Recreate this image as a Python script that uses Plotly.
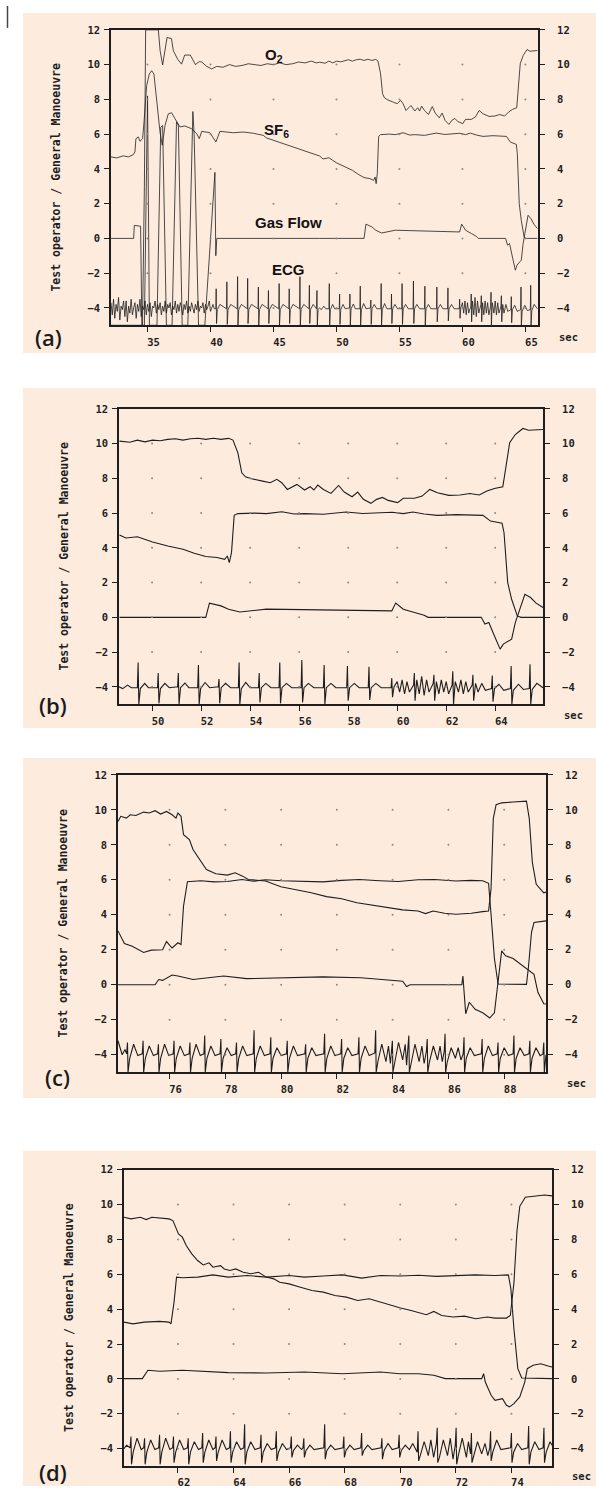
import plotly.graph_objects as go

# ---------------- DATA ----------------
y_ticks = [-4, -2, 0, 2, 4, 6, 8, 10, 12]
a_xticks = [35, 40, 45, 50, 55, 60, 65]
b_xticks = [50, 52, 54, 56, 58, 60, 62, 64]
c_xticks = [76, 78, 80, 82, 84, 86, 88]
d_xticks = [62, 64, 66, 68, 70, 72, 74]

# ---- panel (b): 48.7 - 66 s ----
b_o2_t = [48.67, 49.09, 49.40, 49.71, 50.02, 50.33, 50.64, 50.95, 51.26, 51.57, 51.88, 52.19, 52.50, 52.81, 53.12,
          53.30, 53.50, 53.66, 53.81, 54.05, 54.51, 54.82, 55.09, 55.29, 55.52, 55.91, 56.22, 56.45, 56.60, 56.76,
          56.99, 57.30, 57.61, 57.84, 58.16, 58.39, 58.62, 58.93, 59.16, 59.40, 59.63, 60.02, 60.25, 60.71, 61.02,
          61.33, 61.64, 62.11, 62.57, 62.96, 63.35, 63.66, 63.97, 64.31, 64.40, 64.59, 64.82, 65.13, 65.36, 65.95]
b_o2_v = [10.14, 10.08, 10.2, 10.1, 10.2, 10.16, 10.24, 10.28, 10.2, 10.28, 10.31, 10.24, 10.31, 10.24, 10.3,
          10.2, 9.47, 8.32, 8.09, 7.98, 7.84, 7.75, 7.94, 7.75, 7.36, 7.65, 7.33, 7.52, 7.33, 7.61,
          7.36, 7.13, 7.59, 7.21, 6.94, 7.21, 6.79, 6.56, 6.79, 6.9, 6.73, 6.6, 6.85, 6.85, 6.98,
          7.36, 7.17, 7.02, 7.04, 7.13, 7.04, 7.27, 7.42, 7.52, 8.32, 10.05, 10.52, 10.87, 10.77, 10.81]
b_sf6_t = [48.67, 48.93, 49.40, 50.02, 50.64, 51.26, 51.72, 52.19, 52.65, 52.96, 53.07, 53.15, 53.24, 53.35, 53.50,
           54.2, 54.67, 55.29, 55.8, 56.22, 56.99, 57.5, 57.92, 58.6, 59.32, 59.8, 60.25, 60.64, 61.1, 61.64,
           62.42, 63.0, 63.50, 63.81, 64.28, 64.36, 64.51, 64.67, 64.90, 65.05, 65.95]
b_sf6_v = [4.74, 4.57, 4.64, 4.34, 4.11, 3.92, 3.69, 3.5, 3.44, 3.34, 3.53, 3.15, 3.72, 5.87, 5.97,
           6.0, 5.97, 6.08, 5.95, 5.97, 5.93, 6.02, 6.06, 5.98, 6.02, 6.05, 5.97, 6.06, 5.95, 5.87,
           5.91, 5.9, 5.87, 5.54, 5.41, 4.87, 2.0, 1.04, 0.08, 0.0, 0.0]
b_gas_t = [48.67, 52.19, 52.34, 52.81, 53.12, 53.58, 54.67, 56.22, 57.77, 59.78, 59.94, 60.25, 60.71, 61.10,
           61.26, 63.43, 63.58, 63.74, 63.97, 64.20, 64.33, 64.67, 64.82, 64.98, 65.21, 65.44, 65.67, 65.95]
b_gas_v = [0, 0, 0.82, 0.66, 0.47, 0.31, 0.47, 0.43, 0.43, 0.37, 0.82, 0.47, 0.28, 0.12,
           0, 0, -0.39, -0.3, -1.07, -1.83, -1.54, -1.26, -0.3, 0.37, 1.33, 1.14, 0.82, 0.57]
b_ecg_t = [48.65, 48.8, 49.0, 49.15,
           49.4, 49.43, 49.46, 49.52, 49.7, 49.85,
           50.22, 50.25, 50.28, 50.34, 50.52, 50.7,
           51.04, 51.07, 51.1, 51.16, 51.34, 51.5,
           51.86, 51.89, 51.92, 51.98, 52.16, 52.35,
           52.7, 52.73, 52.76, 52.82, 53.0, 53.2,
           53.52, 53.55, 53.58, 53.64, 53.82, 54.0,
           54.34, 54.37, 54.4, 54.46, 54.64, 54.85,
           55.18, 55.21, 55.24, 55.3, 55.48, 55.7,
           56.08, 56.11, 56.14, 56.2, 56.38, 56.6,
           56.99, 57.02, 57.05, 57.11, 57.3, 57.5,
           57.94, 57.97, 58.0, 58.06, 58.25, 58.45,
           58.82, 58.85, 58.88, 58.94, 59.13, 59.35,
           59.75, 59.78, 59.81, 59.87,
           60.0, 60.1, 60.2, 60.3, 60.4, 60.5,
           60.67, 60.7, 60.73, 60.8, 60.9, 61.0, 61.1, 61.2, 61.3,
           61.47, 61.5, 61.53, 61.6, 61.7, 61.8, 61.9, 62.0, 62.1,
           62.24, 62.27, 62.3, 62.37, 62.5, 62.6, 62.7, 62.8, 62.9,
           63.06, 63.09, 63.12, 63.2, 63.3, 63.45, 63.6,
           63.85, 63.88, 63.91, 63.97, 64.15, 64.35,
           64.62, 64.65, 64.68, 64.74, 64.95, 65.15,
           65.39, 65.42, 65.45, 65.51, 65.7, 65.95]
b_ecg_v = [-4.0, -4.1, -3.9, -4.05,
           -4.05, -2.6, -5.0, -4.1, -3.8, -4.05,
           -4.05, -3.2, -4.95, -4.1, -3.8, -4.05,
           -4.0, -3.2, -5.0, -4.05, -3.78, -4.05,
           -4.05, -2.75, -5.0, -4.1, -3.75, -4.05,
           -4.0, -3.55, -4.95, -4.05, -3.8, -4.05,
           -4.05, -2.6, -5.0, -4.1, -3.75, -4.05,
           -4.05, -3.2, -4.9, -4.05, -3.8, -4.05,
           -4.05, -2.6, -4.95, -4.05, -3.8, -4.05,
           -4.05, -2.45, -4.9, -4.05, -3.8, -4.05,
           -4.05, -2.75, -5.0, -4.05, -3.8, -4.05,
           -4.05, -2.8, -4.8, -4.05, -3.8, -4.05,
           -4.05, -2.85, -4.75, -4.05, -3.8, -4.05,
           -4.05, -3.5, -4.6, -4.0,
           -3.7, -4.3, -3.6, -4.4, -3.7, -4.3,
           -3.9, -3.2, -4.8, -3.6, -4.4, -3.4, -4.5, -3.6, -4.3,
           -3.8, -3.3, -4.8, -3.7, -4.4, -3.6, -4.3, -3.7, -4.4,
           -3.9, -3.1, -5.0, -3.7, -4.3, -3.6, -4.4, -3.7, -4.3,
           -3.9, -3.3, -4.8, -3.8, -4.3, -3.8, -4.2,
           -4.1, -3.35, -4.85, -4.1, -3.85, -4.2,
           -4.1, -2.8, -5.0, -4.2, -3.85, -4.15,
           -4.1, -2.7, -5.0, -4.15, -3.8, -4.05]

# ---- panel (a): early part 32.1 - 48.6 s (rest is the same record as panel b) ----
a_o2_t_early = [32.1, 34.6, 34.75, 34.85, 35.86, 36.0, 36.2, 36.4, 36.55, 36.9, 37.05, 37.4, 37.7, 37.95, 38.4,
                38.8, 39.1, 39.3, 39.7, 40.1, 40.5, 41.0, 41.5, 42.0, 42.5, 43.0, 43.5, 44.0, 44.5, 45.0,
                45.5, 46.0, 46.5, 47.0, 47.5, 48.0, 48.4]
a_o2_v_early = [-5, -5, 3.0, 12, 12, 10.8, 9.98, 11.0, 11.56, 11.5, 10.8, 10.3, 10.03, 10.55, 10.55,
                10.0, 10.17, 10.15, 9.9, 9.75, 9.9, 9.85, 10.0, 9.9, 9.95, 10.05, 10.0, 9.95, 10.05, 10.0,
                10.1, 10.0, 10.05, 10.15, 10.1, 10.2, 10.1]
a_sf6_t_early = [32.1, 32.55, 33.08, 33.48, 33.87, 34.0, 34.08, 34.27, 34.4, 34.61, 34.72, 34.93, 35.14, 35.33,
                 35.51, 35.72, 35.99, 36.17, 36.39, 36.65, 36.91, 37.18, 37.58, 37.97, 38.5, 38.9, 39.11, 39.3,
                 39.96, 40.43, 40.75, 41.81, 42.6, 43.4, 44.19, 44.45, 44.98, 45.78, 46.57, 47.1, 47.6, 48.2]
a_sf6_v_early = [4.69, 4.63, 4.75, 4.69, 4.82, 4.98, 5.74, 5.84, 5.59, 5.74, 6.69, 8.79, 9.46, 9.65,
                 9.46, 8.03, 6.12, 5.36, 6.5, 7.17, 7.23, 6.89, 6.41, 6.47, 6.31, 6.03, 5.74, 6.16,
                 6.08, 5.55, 6.16, 6.08, 6.12, 6.05, 5.93, 5.78, 5.65, 5.45, 5.26, 5.13, 5.0, 4.85]
a_gas_t_early = [32.1, 33.9, 33.95, 34.45, 34.55, 34.75, 35.0, 35.15, 35.75, 36.05, 36.2, 36.5, 36.95, 37.3,
                 37.45, 37.75, 38.2, 38.6, 38.7, 39.05, 39.55, 40.35, 40.42, 40.5]
a_gas_v_early = [0, 0, 0.75, 0.7, -5, -5, 8.2, -5, -5, 6.4, 6.5, -5, -5, 6.7,
                 6.5, -5, -5, 7.3, 6.0, -5, -5, 3.8, -1.0, 0]
a_ecg_t_early = [32.1, 32.2, 32.3, 32.4, 32.5, 32.6, 32.7, 32.8, 32.9, 33.0,
                 33.1, 33.2, 33.3, 33.4, 33.5, 33.6, 33.7, 33.8, 33.9, 34.0,
                 34.1, 34.2, 34.3, 34.4, 34.5, 34.6, 34.7, 34.8, 34.9, 35.0,
                 35.1, 35.2, 35.3, 35.4, 35.5, 35.6, 35.7, 35.8, 35.9, 36.0,
                 36.1, 36.2, 36.3, 36.4, 36.5, 36.6, 36.7, 36.8, 36.9, 37.0,
                 37.1, 37.2, 37.3, 37.4, 37.5, 37.6, 37.7, 37.8, 37.9, 38.0,
                 38.1, 38.2, 38.3, 38.4, 38.5, 38.6, 38.7, 38.8, 38.9, 39.0,
                 39.1, 39.2, 39.3, 39.4, 39.5, 39.6, 39.7, 39.8, 39.9, 40.0,
                 40.1, 40.2, 40.3,
                 40.42, 40.45, 40.48, 40.54, 40.75,
                 41.27, 41.3, 41.33, 41.39, 41.6,
                 42.12, 42.15, 42.18, 42.24, 42.45,
                 42.92, 42.95, 42.98, 43.04, 43.25,
                 43.77, 43.8, 43.83, 43.89, 44.1,
                 44.57, 44.6, 44.63, 44.69, 44.9,
                 45.42, 45.45, 45.48, 45.54, 45.75,
                 46.22, 46.25, 46.28, 46.34, 46.55,
                 47.07, 47.1, 47.13, 47.19, 47.4,
                 47.82, 47.85, 47.88, 47.94, 48.15,
                 48.42, 48.45, 48.48, 48.54]
a_ecg_v_early = [-3.7, -4.4, -3.5, -4.6, -3.8, -4.2, -3.4, -4.7, -3.9, -4.1,
                 -3.6, -4.5, -3.6, -4.8, -3.9, -4.3, -3.5, -4.4, -4.0, -3.7,
                 -4.6, -3.8, -4.2, -3.5, -4.5, -3.9, -4.1, -3.6, -4.4, -3.8,
                 -4.2, -3.7, -4.5, -3.9, -4.0, -3.6, -4.3, -3.8, -4.1, -3.7,
                 -4.4, -3.9, -4.2, -3.6, -4.3, -3.8, -4.0, -3.7, -4.4, -3.9,
                 -4.1, -3.6, -4.3, -3.8, -4.2, -3.7, -4.0, -4.4, -3.8, -4.1,
                 -3.6, -4.3, -3.9, -4.2, -3.7, -4.0, -4.3, -3.8, -4.1, -3.6,
                 -4.2, -3.9, -4.0, -3.7, -4.3, -3.8, -4.1, -3.9, -3.6, -4.2,
                 -4.0, -3.8, -4.05,
                 -4.05, -2.9, -4.9, -4.1, -3.8,
                 -4.05, -2.5, -4.95, -4.1, -3.8,
                 -4.05, -2.2, -5.0, -4.1, -3.8,
                 -4.05, -2.3, -4.9, -4.1, -3.8,
                 -4.05, -2.8, -5.0, -4.1, -3.8,
                 -4.05, -3.0, -4.9, -4.1, -3.8,
                 -4.05, -2.6, -5.0, -4.1, -3.8,
                 -4.05, -2.9, -4.9, -4.1, -3.8,
                 -4.05, -2.2, -5.0, -4.1, -3.8,
                 -4.05, -2.7, -4.9, -4.1, -3.8,
                 -4.05, -3.0, -5.0, -4.1]

# ---- panel (c): 74.2 - 89.5 s ----
c_l1_t = [74.15, 74.25, 74.45, 74.59, 74.79, 75.07, 75.27, 75.48, 75.68, 75.89, 76.09, 76.23, 76.30, 76.41, 76.50,
          76.71, 76.84, 77.12, 77.32, 77.66, 78.07, 78.35, 78.62, 78.82, 79.44, 79.99, 80.53, 81.08, 81.63, 82.17,
          82.72, 83.27, 83.81, 84.36, 84.91, 85.18, 85.45, 85.86, 86.27, 86.82, 87.23, 87.44, 87.53, 87.61, 87.71,
          87.91, 88.32, 88.80, 88.90, 89.01, 89.15, 89.42, 89.5]
c_l1_v = [9.34, 9.63, 9.53, 9.72, 9.68, 9.87, 9.82, 9.95, 9.76, 9.91, 9.72, 9.53, 9.82, 9.63, 8.58,
          8.3, 7.73, 7.07, 6.59, 6.35, 6.27, 6.4, 6.21, 6.02, 5.93, 5.6, 5.45, 5.26, 5.04, 4.92,
          4.69, 4.54, 4.41, 4.28, 4.22, 4.07, 4.22, 4.09, 4.03, 4.09, 4.18, 4.22, 5.5, 9.5, 10.29,
          10.4, 10.45, 10.5, 9.5, 7.0, 5.74, 5.26, 5.3]
c_l2_t = [74.15, 74.38, 74.66, 75.07, 75.34, 75.75, 75.89, 76.09, 76.30, 76.41, 76.50, 76.64, 77.12, 77.6, 78.07,
          78.6, 79.0, 79.44, 80.0, 80.81, 81.5, 82.17, 82.8, 83.54, 84.2, 84.91, 85.5, 86.27, 86.8, 87.23,
          87.44, 87.53, 87.65, 87.78, 88.80, 88.87, 88.98, 89.07, 89.5]
c_l2_v = [3.08, 2.36, 2.2, 1.85, 1.98, 2.0, 2.47, 2.1, 2.4, 2.3, 4.5, 5.89, 5.95, 5.88, 5.9,
          6.02, 5.92, 6.0, 5.95, 5.9, 5.88, 5.97, 6.02, 5.95, 5.9, 6.0, 6.02, 5.93, 5.97, 5.95,
          5.8, 4.0, 1.5, 0.04, 0.02, 1.0, 3.0, 3.56, 3.65]
c_gas_t = [74.15, 75.48, 75.61, 75.75, 76.09, 76.30, 76.84, 77.94, 78.76, 80.12, 81.49, 82.86, 83.81, 84.36, 84.50,
           84.63, 86.48, 86.52, 86.62, 86.75, 86.96, 87.23, 87.48, 87.65, 87.91, 88.05, 88.32, 88.66, 88.87, 89.07,
           89.21, 89.42, 89.5]
c_gas_v = [0, 0, 0.3, 0.25, 0.56, 0.5, 0.3, 0.5, 0.35, 0.4, 0.45, 0.4, 0.3, 0.2, -0.1,
           0, 0, 0.5, -1.66, -1.0, -1.4, -1.6, -1.9, -1.6, 1.94, 1.66, 1.5, 1.09, 0.8, 0.6,
           -0.43, -1.09, -1.1]
c_ecg_t = [74.15, 74.3, 74.4,
           74.46, 74.49, 74.51, 74.57, 74.71, 74.86,
           75.02, 75.05, 75.07, 75.13, 75.27, 75.42,
           75.57, 75.60, 75.62, 75.68, 75.82, 75.97,
           76.13, 76.16, 76.18, 76.24, 76.38, 76.53,
           76.70, 76.73, 76.75, 76.81, 76.95, 77.10,
           77.23, 77.26, 77.28, 77.34, 77.48, 77.63,
           77.81, 77.84, 77.86, 77.92, 78.06, 78.21,
           78.37, 78.40, 78.42, 78.48, 78.62, 78.77,
           79.00, 79.03, 79.05, 79.11, 79.25, 79.40,
           79.60, 79.63, 79.65, 79.71, 79.85, 80.00,
           80.19, 80.22, 80.24, 80.30, 80.44, 80.59,
           80.85, 80.88, 80.90, 80.96, 81.10, 81.25,
           81.53, 81.56, 81.58, 81.64, 81.78, 81.93,
           82.14, 82.17, 82.19, 82.25, 82.39, 82.54,
           82.76, 82.79, 82.81, 82.87, 83.01, 83.16,
           83.36, 83.39, 83.41, 83.47, 83.61, 83.76, 83.85, 83.92,
           83.96, 83.99, 84.01, 84.07, 84.21, 84.36, 84.45, 84.50,
           84.55, 84.58, 84.60, 84.66, 84.80, 84.95, 85.05, 85.13,
           85.21, 85.24, 85.26, 85.32, 85.46, 85.61, 85.70, 85.78,
           85.85, 85.88, 85.90, 85.96, 86.10, 86.25, 86.35, 86.45,
           86.53, 86.56, 86.58, 86.64, 86.78, 86.93,
           87.18, 87.21, 87.23, 87.29, 87.43, 87.58,
           87.75, 87.78, 87.80, 87.86, 88.00, 88.15,
           88.32, 88.35, 88.37, 88.43, 88.57, 88.72,
           88.89, 88.92, 88.94, 89.00, 89.14, 89.29,
           89.39, 89.42, 89.44, 89.50]
c_ecg_v = [-3.2, -4.0, -3.7,
           -3.95, -3.3, -5.0, -4.2, -3.4, -4.05,
           -3.95, -3.2, -5.0, -4.2, -3.5, -4.05,
           -3.95, -3.4, -5.0, -4.2, -3.4, -4.05,
           -3.95, -3.2, -5.0, -4.2, -3.5, -4.05,
           -3.95, -3.3, -5.0, -4.2, -3.4, -4.05,
           -3.95, -2.9, -5.0, -4.2, -3.5, -4.05,
           -3.95, -3.1, -5.0, -4.2, -3.6, -4.05,
           -3.95, -3.3, -5.0, -4.2, -3.5, -4.05,
           -3.95, -2.6, -5.0, -4.2, -3.5, -4.05,
           -3.95, -3.0, -5.0, -4.2, -3.6, -4.05,
           -3.95, -3.2, -5.0, -4.2, -3.5, -4.05,
           -3.95, -3.4, -5.0, -4.2, -3.6, -4.05,
           -3.95, -2.8, -5.0, -4.2, -3.5, -4.05,
           -3.95, -3.1, -5.0, -4.2, -3.6, -4.05,
           -3.95, -3.0, -5.0, -4.2, -3.5, -4.05,
           -3.9, -2.6, -5.0, -4.4, -3.4, -4.4, -3.5, -4.5,
           -3.8, -3.2, -5.0, -4.5, -3.3, -4.3, -3.4, -4.6,
           -3.8, -2.9, -5.0, -4.5, -3.4, -4.4, -3.5, -4.5,
           -3.8, -3.1, -5.0, -4.4, -3.5, -4.3, -3.5, -4.4,
           -3.8, -2.8, -5.0, -4.4, -3.6, -4.2, -3.6, -4.3,
           -3.95, -3.0, -5.0, -4.2, -3.6, -4.05,
           -3.95, -3.1, -5.0, -4.2, -3.5, -4.05,
           -3.95, -3.3, -5.0, -4.2, -3.6, -4.05,
           -3.95, -2.9, -5.0, -4.2, -3.6, -4.05,
           -3.95, -3.2, -5.0, -4.2, -3.6, -4.05,
           -3.95, -3.3, -5.0, -4.0]

# ---- panel (d): 60.1 - 75.5 s ----
d_l1_t = [60.06, 60.31, 60.65, 60.86, 61.06, 61.34, 61.68, 61.82, 61.95, 62.02, 62.16, 62.30, 62.50, 62.71, 62.91,
          63.12, 63.26, 63.53, 63.67, 63.87, 64.08, 64.35, 64.63, 64.90, 65.18, 65.45, 65.66, 66.0, 66.41, 66.82,
          67.23, 67.65, 68.06, 68.47, 68.88, 69.29, 69.70, 69.98, 70.39, 70.66, 70.94, 71.21, 71.49, 71.90, 72.31,
          72.72, 73.13, 73.41, 73.82, 73.96, 74.09, 74.20, 74.30, 74.50, 74.92, 75.19, 75.46]
d_l1_v = [9.27, 9.18, 9.27, 9.14, 9.27, 9.21, 9.18, 9.08, 8.6, 8.32, 8.13, 7.65, 7.17, 6.79, 6.54,
          6.66, 6.41, 6.5, 6.31, 6.22, 6.31, 6.12, 6.03, 6.12, 5.84, 5.74, 5.55, 5.45, 5.26, 5.07,
          4.98, 4.79, 4.69, 4.5, 4.6, 4.4, 4.21, 4.08, 3.93, 3.79, 3.68, 3.87, 3.64, 3.55, 3.6,
          3.45, 3.55, 3.49, 3.49, 3.64, 5.5, 8.5, 9.9, 10.42, 10.5, 10.55, 10.5]
d_l2_t = [60.06, 60.38, 60.79, 61.34, 61.68, 61.75, 61.86, 61.95, 62.16, 62.71, 63.26, 63.81, 64.49, 65.18, 66.0,
          66.55, 67.23, 67.92, 68.61, 69.29, 70.0, 70.66, 71.3, 72.03, 72.7, 73.41, 73.89, 73.98, 74.09, 74.23,
          74.37, 75.46]
d_l2_v = [3.26, 3.16, 3.26, 3.3, 3.26, 3.16, 4.4, 5.84, 5.8, 5.84, 5.97, 5.84, 5.93, 5.84, 5.93,
          5.84, 5.9, 5.97, 5.78, 5.93, 5.9, 5.95, 5.88, 5.93, 5.97, 5.93, 5.97, 5.17, 2.88, 0.59,
          0.05, 0.02]
d_gas_t = [60.06, 60.72, 60.92, 61.34, 62.16, 62.71, 63.81, 65.18, 66.55, 67.92, 69.29, 69.98, 70.66, 71.21, 71.49,
           71.62, 72.93, 73.0, 73.06, 73.27, 73.41, 73.68, 73.82, 73.93, 74.09, 74.30, 74.48, 74.57, 74.78, 75.05,
           75.32, 75.46]
d_gas_v = [0.02, 0.02, 0.5, 0.44, 0.5, 0.44, 0.36, 0.34, 0.4, 0.3, 0.4, 0.3, 0.3, 0.21, 0.06,
           0.02, 0.02, 0.3, -0.18, -0.94, -1.23, -1.13, -1.51, -1.6, -1.42, -1.03, -0.18, 0.59, 0.78, 0.87,
           0.74, 0.68]
d_ecg_t = [60.06, 60.15,
           60.28, 60.31, 60.33, 60.39, 60.53, 60.68,
           60.77, 60.80, 60.82, 60.88, 61.02, 61.17,
           61.31, 61.34, 61.36, 61.42, 61.56, 61.71,
           61.81, 61.84, 61.86, 61.92, 62.06, 62.21,
           62.34, 62.37, 62.39, 62.45, 62.59, 62.74,
           62.86, 62.89, 62.91, 62.97, 63.11, 63.26,
           63.34, 63.37, 63.39, 63.45, 63.59, 63.74,
           63.86, 63.89, 63.91, 63.97, 64.11, 64.26,
           64.37, 64.40, 64.42, 64.48, 64.62, 64.77,
           64.96, 64.99, 65.01, 65.07, 65.21, 65.36,
           65.51, 65.54, 65.56, 65.62, 65.76, 65.91,
           66.05, 66.08, 66.10, 66.16, 66.30, 66.45,
           66.50, 66.53, 66.55, 66.61, 66.75, 66.90,
           67.25, 67.28, 67.30, 67.36, 67.50, 67.65,
           67.94, 67.97, 67.99, 68.05, 68.19, 68.34,
           68.58, 68.61, 68.63, 68.69, 68.83, 68.98,
           69.31, 69.34, 69.36, 69.42, 69.56, 69.71,
           69.93, 69.96, 69.98, 70.04, 70.18, 70.33, 70.45,
           70.61, 70.64, 70.66, 70.72, 70.86, 71.01, 71.10, 71.20,
           71.30, 71.33, 71.35, 71.41, 71.55, 71.70, 71.80, 71.90,
           71.98, 72.01, 72.03, 72.09, 72.23, 72.38, 72.45,
           72.53, 72.56, 72.58, 72.64, 72.78, 72.93, 73.05, 73.15,
           73.22, 73.25, 73.27, 73.33, 73.47, 73.62,
           73.97, 74.00, 74.02, 74.08, 74.22, 74.37,
           74.59, 74.62, 74.64, 74.70, 74.84, 74.99,
           75.14, 75.17, 75.19, 75.25, 75.39, 75.46]
d_ecg_v = [-4.0, -3.8,
           -3.95, -3.3, -4.9, -4.2, -3.4, -4.05,
           -3.95, -3.4, -4.9, -4.2, -3.5, -4.05,
           -3.95, -3.2, -4.9, -4.2, -3.4, -4.05,
           -3.95, -3.3, -4.8, -4.2, -3.5, -4.05,
           -3.95, -3.4, -4.9, -4.2, -3.6, -4.05,
           -3.95, -3.1, -4.8, -4.2, -3.5, -4.05,
           -3.95, -3.3, -4.7, -4.2, -3.5, -4.05,
           -3.95, -3.0, -4.8, -4.2, -3.6, -4.05,
           -3.95, -2.6, -4.9, -4.2, -3.6, -4.05,
           -3.95, -3.2, -4.8, -4.2, -3.7, -4.05,
           -3.95, -3.0, -4.7, -4.2, -3.7, -4.05,
           -3.95, -3.3, -4.5, -4.1, -3.8, -4.05,
           -3.95, -3.4, -4.5, -4.1, -3.8, -4.05,
           -3.95, -2.6, -4.6, -4.1, -3.8, -4.05,
           -3.95, -3.3, -4.5, -4.1, -3.8, -4.05,
           -3.95, -3.1, -4.4, -4.1, -3.8, -4.05,
           -3.95, -3.4, -4.6, -4.1, -3.7, -4.05,
           -3.95, -3.2, -4.5, -4.1, -3.8, -4.05, -3.7,
           -4.2, -3.0, -4.7, -4.4, -3.6, -4.4, -3.5, -4.5,
           -3.7, -2.8, -4.8, -4.5, -3.5, -4.4, -3.4, -4.6,
           -3.8, -2.8, -4.9, -4.4, -3.4, -4.5, -3.6,
           -4.3, -3.1, -4.8, -4.4, -3.6, -4.3, -3.7, -4.4,
           -3.95, -3.0, -4.7, -4.2, -3.5, -4.05,
           -3.95, -3.1, -4.8, -4.2, -3.7, -4.05,
           -3.95, -2.7, -4.9, -4.2, -3.6, -4.05,
           -3.95, -2.8, -4.8, -4.2, -3.6, -3.8]

# panel (a) = early segment + the same record shown in panel (b)
a_o2_t, a_o2_v = a_o2_t_early + b_o2_t, a_o2_v_early + b_o2_v
a_sf6_t, a_sf6_v = a_sf6_t_early + b_sf6_t, a_sf6_v_early + b_sf6_v
a_gas_t, a_gas_v = a_gas_t_early + b_gas_t, a_gas_v_early + b_gas_v
a_ecg_t, a_ecg_v = a_ecg_t_early + b_ecg_t, a_ecg_v_early + b_ecg_v

# ---------------- FIGURE ----------------
W, H = 596, 1488
BG = "#FDECDE"
INK = "#1e1e1e"
MONO = "DejaVu Sans Mono"


def fx(px):
    return px / W


def fy(py):
    return 1 - py / H


panels = [
    dict(box=(111, 538, 24, 321), bg=(7, 349), xr=[32.1, 66.0], xt=a_xticks, lw=0.8,
         series=[(a_o2_t, a_o2_v), (a_sf6_t, a_sf6_v), (a_gas_t, a_gas_v), (a_ecg_t, a_ecg_v)],
         letter="(a)", lpos=(48, 333), spos=(568, 333)),
    dict(box=(119, 543, 405, 702), bg=(384, 726), xr=[48.65, 65.95], xt=b_xticks, lw=1.1,
         series=[(b_o2_t, b_o2_v), (b_sf6_t, b_sf6_v), (b_gas_t, b_gas_v), (b_ecg_t, b_ecg_v)],
         letter="(b)", lpos=(53, 703), spos=(573, 713)),
    dict(box=(118, 546, 773, 1072), bg=(756, 1098), xr=[74.15, 89.5], xt=c_xticks, lw=1.1,
         series=[(c_l1_t, c_l1_v), (c_l2_t, c_l2_v), (c_gas_t, c_gas_v), (c_ecg_t, c_ecg_v)],
         letter="(c)", lpos=(57, 1077), spos=(576, 1083)),
    dict(box=(124, 552, 1170, 1468), bg=(1151, 1488), xr=[60.06, 75.46], xt=d_xticks, lw=1.1,
         series=[(d_l1_t, d_l1_v), (d_l2_t, d_l2_v), (d_gas_t, d_gas_v), (d_ecg_t, d_ecg_v)],
         letter="(d)", lpos=(53, 1474), spos=(581, 1478)),
]

fig = go.Figure()
layout = dict(width=W, height=H, margin=dict(l=0, r=0, t=0, b=0), paper_bgcolor="white",
              plot_bgcolor=BG, showlegend=False)
shapes, annotations = [], []
tickfont = dict(family=MONO, size=10.5, color=INK, weight="bold")

for i, p in enumerate(panels):
    n = i + 1
    xs = "" if n == 1 else str(n)
    x0, x1, y0, y1 = p["box"]
    dom_x = [fx(x0), fx(x1)]
    dom_y = [fy(y1), fy(y0)]
    layout["xaxis" + xs] = dict(domain=dom_x, range=p["xr"], anchor="y" + xs, tickvals=p["xt"],
                               ticktext=[str(v) for v in p["xt"]], ticks="outside", ticklen=5,
                               tickwidth=1.2, tickcolor=INK, showline=True, linecolor=INK, linewidth=1.5,
                               mirror=True, showgrid=False, zeroline=False, tickfont=tickfont,
                               ticklabelshift=6, ticklabelstandoff=1, fixedrange=True)
    layout["yaxis" + xs] = dict(domain=dom_y, range=[-5, 12], anchor="x" + xs, tickvals=y_ticks,
                               ticks="outside", ticklen=5, tickwidth=1.2, tickcolor=INK, showline=True,
                               linecolor=INK, linewidth=1.5, mirror=True, showgrid=False, zeroline=False,
                               tickfont=tickfont, ticklabelstandoff=2, fixedrange=True)
    layout["yaxis" + str(n + 4)] = dict(domain=dom_y, range=[-5, 12], anchor="x" + xs,
                                        overlaying="y" + xs, side="right", tickvals=y_ticks,
                                        ticks="outside", ticklen=6, tickwidth=1.2, tickcolor=INK,
                                        showline=False, showgrid=False, zeroline=False, tickfont=tickfont,
                                        ticklabelstandoff=10, fixedrange=True)
    # peach panel background
    shapes.append(dict(type="rect", xref="paper", yref="paper", x0=fx(23), x1=1.0,
                       y0=fy(p["bg"][1]), y1=fy(p["bg"][0]), fillcolor=BG, line=dict(width=0),
                       layer="below"))
    # grid dots at tick intersections
    gx, gy = [], []
    for xv in p["xt"]:
        for yv in y_ticks[:-1]:
            gx.append(xv)
            gy.append(yv)
    fig.add_trace(go.Scatter(x=gx, y=gy, mode="markers", xaxis="x" + xs, yaxis="y" + str(n + 4),
                             marker=dict(size=2, color="#8a8a8a"), hoverinfo="skip"))
    for t, v in p["series"]:
        fig.add_trace(go.Scatter(x=t, y=v, mode="lines", xaxis="x" + xs, yaxis="y" + xs,
                                 line=dict(color=INK, width=p["lw"]), hoverinfo="skip"))
    # texts
    annotations.append(dict(text="Test operator / General Manoeuvre", textangle=-90, xref="paper",
                            yref="paper", x=fx(x0 - 55), y=fy((y0 + y1) / 2), showarrow=False,
                            xanchor="center", yanchor="middle",
                            font=dict(family=MONO, size=11.5, color=INK, weight="bold")))
    annotations.append(dict(text=p["letter"], xref="paper", yref="paper", x=fx(p["lpos"][0]),
                            y=fy(p["lpos"][1]), showarrow=False, xanchor="center", yanchor="middle",
                            font=dict(family="Open Sans", size=22, color="#1a1a1a", weight=600)))
    annotations.append(dict(text="sec", xref="paper", yref="paper", x=fx(p["spos"][0]),
                            y=fy(p["spos"][1]), showarrow=False, xanchor="center", yanchor="middle",
                            font=tickfont))

# trace labels in panel (a)
lab_font = dict(family="Liberation Sans", size=15, color="#111111", weight="bold")
for txt, px, py in [("O<sub>2</sub>", 274, 50), ("SF<sub>6</sub>", 276, 125),
                    ("Gas Flow", 288, 218), ("ECG", 288, 265)]:
    annotations.append(dict(text=txt, xref="paper", yref="paper", x=fx(px), y=fy(py), showarrow=False,
                            xanchor="center", yanchor="middle", font=lab_font))

shapes.append(dict(type="line", xref="paper", yref="paper", x0=fx(7.5), x1=fx(7.5), y0=fy(22), y1=1.0,
                   line=dict(color="#444444", width=1.5)))

layout["shapes"] = shapes
layout["annotations"] = annotations
fig.update_layout(**layout)
fig.write_html("out.html", config={"displayModeBar": False},
               post_script="document.body.style.margin='0';document.body.style.padding='0';")
